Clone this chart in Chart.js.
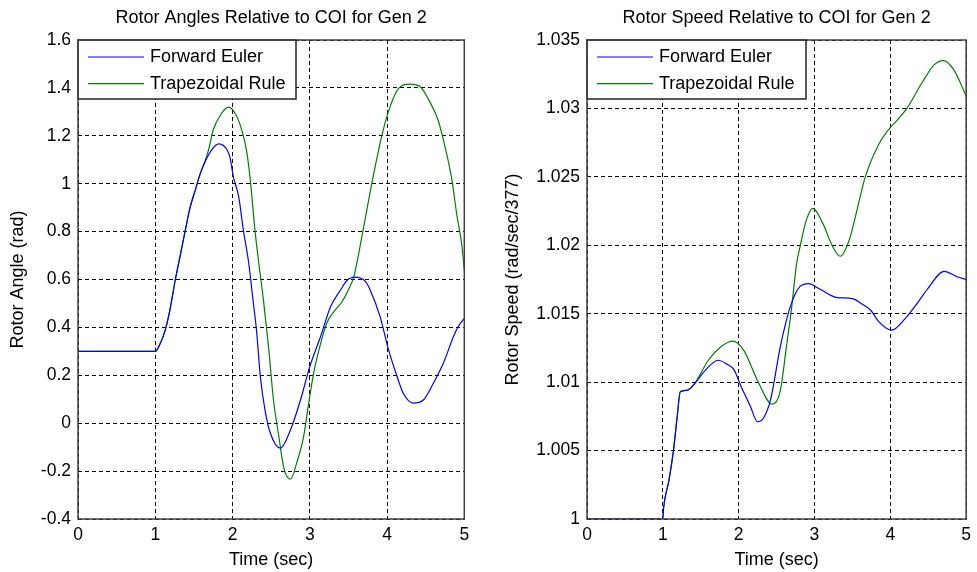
<!DOCTYPE html>
<html>
<head>
<meta charset="utf-8">
<script src="https://cdn.jsdelivr.net/npm/chart.js@4/dist/chart.umd.min.js"></script>
<style>
  html, body { margin: 0; padding: 0; background: #fff; overflow: hidden; }
  #left { position: absolute; left: 0; top: 0; width: 490px; height: 572px; }
  #right { position: absolute; left: 490px; top: 0; width: 487px; height: 572px; }
</style>
</head>
<body>
<div id="left"><canvas id="c1"></canvas></div>
<div id="right"><canvas id="c2"></canvas></div>
<script>
// ---- Data ----
const timeTicks = [0, 1, 2, 3, 4, 5];
const angleTicks = [-0.4, -0.2, 0, 0.2, 0.4, 0.6, 0.8, 1, 1.2, 1.4, 1.6];
const speedTicks = [1, 1.005, 1.01, 1.015, 1.02, 1.025, 1.03, 1.035];
const seriesNames = ['Forward Euler', 'Trapezoidal Rule'];

const angleTimeFE = [0, 1.0, 1.06, 1.13, 1.19, 1.26, 1.32, 1.39, 1.45, 1.52, 1.58, 1.65, 1.73, 1.82, 1.93, 1.97, 2.01, 2.08, 2.14, 2.21, 2.27, 2.31, 2.36, 2.42, 2.49, 2.62, 2.75, 2.88, 3.0, 3.14, 3.27, 3.40, 3.48, 3.59, 3.72, 3.78, 3.91, 4.02, 4.13, 4.21, 4.34, 4.47, 4.60, 4.73, 4.86, 4.92, 5.0];
const angleFE = [0.30, 0.30, 0.33, 0.39, 0.473, 0.60, 0.696, 0.807, 0.900, 0.975, 1.040, 1.095, 1.141, 1.166, 1.141, 1.106, 1.03, 0.946, 0.807, 0.668, 0.501, 0.39, 0.195, 0.056, -0.042, -0.104, -0.028, 0.097, 0.236, 0.362, 0.487, 0.557, 0.596, 0.61, 0.592, 0.557, 0.445, 0.306, 0.195, 0.125, 0.084, 0.097, 0.167, 0.251, 0.362, 0.403, 0.438];

const angleTimeTR = [0, 1.0, 1.06, 1.13, 1.19, 1.26, 1.32, 1.39, 1.45, 1.52, 1.58, 1.65, 1.69, 1.75, 1.85, 1.95, 2.04, 2.12, 2.18, 2.23, 2.29, 2.34, 2.40, 2.47, 2.53, 2.60, 2.66, 2.75, 2.83, 2.92, 2.98, 3.05, 3.13, 3.22, 3.33, 3.42, 3.50, 3.57, 3.69, 3.82, 3.95, 4.04, 4.15, 4.30, 4.43, 4.54, 4.66, 4.75, 4.84, 4.90, 4.97, 5.0];
const angleTR = [0.30, 0.30, 0.33, 0.39, 0.473, 0.60, 0.696, 0.807, 0.900, 0.975, 1.040, 1.10, 1.141, 1.224, 1.29, 1.32, 1.29, 1.224, 1.141, 1.016, 0.807, 0.668, 0.515, 0.306, 0.097, -0.056, -0.181, -0.234, -0.167, -0.056, 0.07, 0.209, 0.32, 0.418, 0.473, 0.508, 0.557, 0.612, 0.807, 1.03, 1.224, 1.322, 1.398, 1.416, 1.405, 1.35, 1.266, 1.155, 1.016, 0.877, 0.738, 0.64];

const speedTimeFE = [0, 1.0, 1.01, 1.08, 1.14, 1.19, 1.23, 1.32, 1.42, 1.55, 1.73, 1.85, 1.94, 2.03, 2.15, 2.25, 2.33, 2.42, 2.55, 2.68, 2.81, 2.92, 3.07, 3.28, 3.50, 3.63, 3.75, 3.85, 4.02, 4.19, 4.36, 4.49, 4.71, 4.88, 5.0];
const speedFE = [1.0, 1.0, 1.0008, 1.0028, 1.005, 1.0075, 1.0093, 1.0094, 1.0099, 1.0108, 1.0116, 1.0113, 1.0109, 1.0097, 1.0083, 1.0071, 1.0074, 1.0087, 1.0126, 1.0155, 1.017, 1.0172, 1.0168, 1.0162, 1.0161, 1.0157, 1.0152, 1.0144, 1.0138, 1.0146, 1.0158, 1.0168, 1.0181, 1.0177, 1.0175];

const speedTimeTR = [0, 1.0, 1.01, 1.08, 1.14, 1.19, 1.23, 1.32, 1.42, 1.60, 1.77, 1.92, 2.07, 2.25, 2.44, 2.55, 2.63, 2.70, 2.76, 2.81, 2.89, 2.98, 3.11, 3.24, 3.34, 3.46, 3.54, 3.67, 3.85, 3.97, 4.10, 4.23, 4.41, 4.58, 4.70, 4.84, 5.0];
const speedTR = [1.0, 1.0, 1.0008, 1.0028, 1.005, 1.0075, 1.0093, 1.0094, 1.0099, 1.0116, 1.0126, 1.013, 1.0123, 1.0101, 1.0084, 1.0094, 1.0126, 1.0155, 1.0185, 1.0199, 1.0218, 1.0227, 1.0216, 1.0199, 1.0192, 1.0204, 1.0221, 1.025, 1.0274, 1.0284, 1.0292, 1.0301, 1.0318, 1.0332, 1.0335, 1.0328, 1.0309];

const colors = ['#0000ff', '#008000'];

// ---- Helpers ----
const FONT = '"Liberation Sans", Arial, Helvetica, sans-serif';
const pts = (xs, ys) => xs.map((x, i) => ({ x: x, y: ys[i] }));
const fmt = v => String(Number(Number(v).toFixed(4)));

const insideLegend = {
  id: 'insideLegend',
  afterDatasetsDraw(chart, args, opts) {
    const { ctx, chartArea: a } = chart;
    const x0 = a.left, y0 = a.top, w = opts.width, h = 59;
    ctx.save();
    ctx.fillStyle = '#ffffff';
    ctx.fillRect(x0, y0, w, h);
    ctx.strokeStyle = '#222';
    ctx.lineWidth = 1.5;
    ctx.strokeRect(x0, y0, w, h);
    ctx.font = '18px ' + FONT;
    ctx.textBaseline = 'middle';
    ctx.textAlign = 'left';
    chart.data.datasets.forEach((ds, i) => {
      const y = y0 + 17 + i * 26.6;
      ctx.strokeStyle = ds.borderColor;
      ctx.lineWidth = 1.2;
      ctx.beginPath();
      ctx.moveTo(x0 + 10, y);
      ctx.lineTo(x0 + 66, y);
      ctx.stroke();
      ctx.fillStyle = '#000';
      ctx.fillText(ds.label, x0 + 72, y);
    });
    ctx.restore();
  }
};

const frame = {
  id: 'frame',
  afterDraw(chart) {
    const { ctx, chartArea: a } = chart;
    ctx.save();
    ctx.strokeStyle = '#404040';
    ctx.lineWidth = 1.5;
    ctx.strokeRect(a.left, a.top, a.right - a.left, a.bottom - a.top);
    ctx.restore();
  }
};

function makeChart(id, titleText, yTitle, xsFE, ysFE, xsTR, ysTR, yTicks, yWidth, yTitlePad, padRight, legendWidth) {
  return new Chart(document.getElementById(id), {
    type: 'line',
    data: {
      datasets: [
        { label: seriesNames[0], data: pts(xsFE, ysFE), borderColor: colors[0], borderWidth: 1.2,
          pointRadius: 0, cubicInterpolationMode: 'monotone', fill: false },
        { label: seriesNames[1], data: pts(xsTR, ysTR), borderColor: colors[1], borderWidth: 1.2,
          pointRadius: 0, cubicInterpolationMode: 'monotone', fill: false }
      ]
    },
    options: {
      responsive: true,
      maintainAspectRatio: false,
      animation: false,
      events: [],
      layout: { padding: { left: 0, right: padRight, top: 0, bottom: 0 } },
      plugins: {
        legend: { display: false },
        tooltip: { enabled: false },
        title: {
          display: true, text: titleText, fullSize: false, color: '#000',
          font: { family: FONT, size: 18, weight: 'normal', lineHeight: 1.2 },
          padding: { top: 7.7, bottom: 10.7 }
        },
        insideLegend: { width: legendWidth }
      },
      scales: {
        x: {
          type: 'linear', min: 0, max: 5,
          afterBuildTicks: s => { s.ticks = timeTicks.map(v => ({ value: v })); },
          afterFit: s => { s.height = 53; },
          ticks: { color: '#000', padding: 6, maxRotation: 0, font: { family: FONT, size: 17.5 }, callback: v => fmt(v) },
          grid: { color: '#000', lineWidth: 1, drawTicks: false },
          border: { display: false, dash: [4, 3] },
          title: { display: true, text: 'Time (sec)', color: '#000',
                   font: { family: FONT, size: 18, lineHeight: 1.2 }, padding: { top: 0, bottom: 1 } }
        },
        y: {
          type: 'linear', min: yTicks[0], max: yTicks[yTicks.length - 1],
          afterBuildTicks: s => { s.ticks = yTicks.map(v => ({ value: v })); },
          afterFit: s => { s.width = yWidth; },
          ticks: { color: '#000', padding: 7, font: { family: FONT, size: 17.5 }, callback: v => fmt(v) },
          grid: { color: '#000', lineWidth: 1, drawTicks: false },
          border: { display: false, dash: [4, 3] },
          title: { display: true, text: yTitle, color: '#000',
                   font: { family: FONT, size: 18, lineHeight: 1.2 }, padding: { top: yTitlePad, bottom: 0 } }
        }
      }
    },
    plugins: [insideLegend, frame]
  });
}

makeChart('c1', 'Rotor Angles Relative to COI for Gen 2', 'Rotor Angle (rad)',
  angleTimeFE, angleFE, angleTimeTR, angleTR, angleTicks, 78, 7, 25.7, 218);
makeChart('c2', 'Rotor Speed Relative to COI for Gen 2', 'Rotor Speed (rad/sec/377)',
  speedTimeFE, speedFE, speedTimeTR, speedTR, speedTicks, 97, 12, 5, 219);
</script>
</body>
</html>
